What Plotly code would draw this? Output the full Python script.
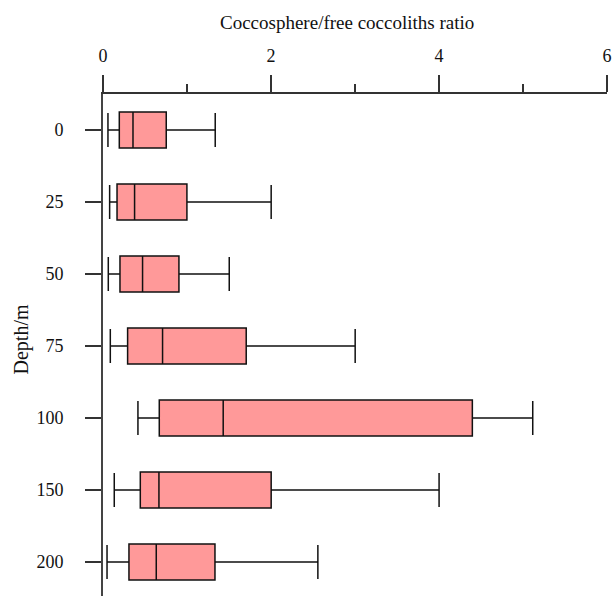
import plotly.graph_objects as go

depths = ["0", "25", "50", "75", "100", "150", "200"]
lower_whisker = [0.059, 0.079, 0.063, 0.087, 0.416, 0.134, 0.048]
q1_vals = [0.194, 0.167, 0.202, 0.293, 0.670, 0.444, 0.309]
median_vals = [0.357, 0.376, 0.471, 0.709, 1.431, 0.666, 0.634]
q3_vals = [0.753, 0.999, 0.904, 1.705, 4.397, 2.002, 1.333]
upper_whisker = [1.336, 2.002, 1.503, 3.002, 5.116, 4.001, 2.558]
x_ticks = [0, 2, 4, 6]
x_title = "Coccosphere/free coccoliths ratio"
y_title = "Depth/m"

FONT = "Liberation Serif, Times New Roman, serif"

fig = go.Figure()
fig.add_trace(go.Box(
    y=depths,
    q1=q1_vals,
    median=median_vals,
    q3=q3_vals,
    lowerfence=lower_whisker,
    upperfence=upper_whisker,
    orientation="h",
    fillcolor="#ff9999",
    line=dict(color="#111111", width=1.5),
    width=0.5,
    whiskerwidth=0.95,
    boxpoints=False,
    showlegend=False,
    hoverinfo="x",
))

fig.update_layout(
    width=616, height=596,
    margin=dict(l=103, r=9, t=94, b=0, pad=0),
    plot_bgcolor="white", paper_bgcolor="white",
    font=dict(family=FONT, size=18, color="#111111"),
    xaxis=dict(
        side="top", range=[0, 6], tickvals=x_ticks,
        ticktext=[str(v) for v in x_ticks],
        ticks="outside", ticklen=17, tickwidth=1.5, tickcolor="#333333",
        minor=dict(dtick=1, ticks="outside", ticklen=8, tickwidth=1.5, tickcolor="#333333", showgrid=False),
        showline=True, linecolor="#333333", linewidth=1.5,
        showgrid=False, zeroline=False,
        ticklabelstandoff=6,
    ),
    yaxis=dict(
        type="category", categoryorder="array", categoryarray=depths,
        range=[6.472, -0.5],
        ticks="outside", ticklen=16, tickwidth=1.5, tickcolor="#333333",
        showline=True, linecolor="#444444", linewidth=2,
        showgrid=False, zeroline=False,
        ticklabelstandoff=18,
    ),
    annotations=[
        dict(text=x_title, xref="paper", yref="paper", x=0.484, y=1.1434,
             xanchor="center", yanchor="middle", showarrow=False,
             font=dict(size=19)),
        dict(text=y_title, xref="paper", yref="paper", x=-0.1617, y=0.51,
             xanchor="center", yanchor="middle", showarrow=False, textangle=-90,
             font=dict(size=20)),
    ],
)

fig.write_html("out.html")
